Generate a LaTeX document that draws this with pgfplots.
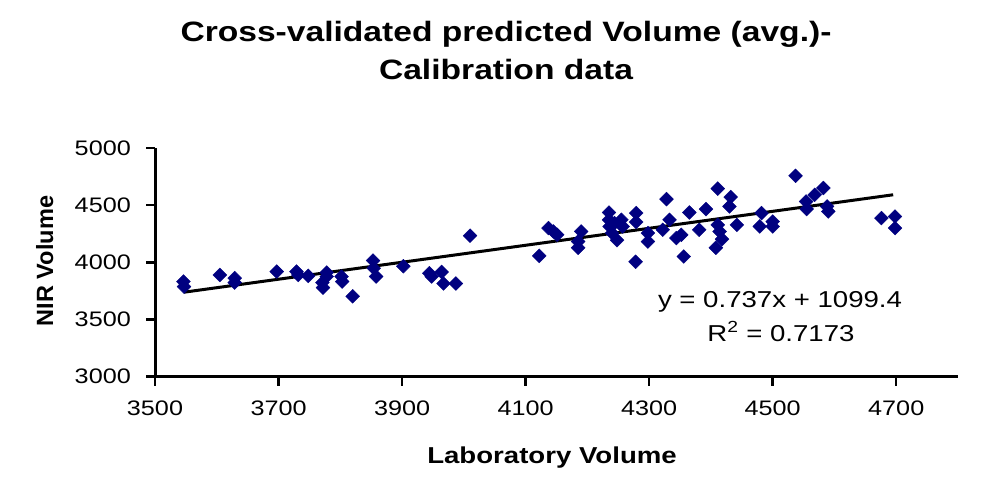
\documentclass[border=0pt]{standalone}
\usepackage{fontspec}
\setmainfont{Liberation Sans}[FakeStretch=1.2]
\newfontfamily\ylabelfont{Liberation Sans}
\usepackage{pgfplots}
\pgfplotsset{compat=1.18}
\definecolor{navyblue}{RGB}{0,0,128}
\pgfplotstableread{
x y
3546 3832
3547 3788
3605 3890
3629 3862
3629 3823
3697 3919
3729 3919
3732 3890
3748 3882
3771 3823
3772 3779
3778 3911
3778 3876
3802 3876
3803 3832
3820 3703
3853 4016
3854 3949
3858 3876
3902 3966
3944 3905
3948 3876
3964 3916
3967 3815
3987 3815
4010 4233
4122 4057
4137 4300
4145 4270
4151 4241
4190 4270
4185 4182
4185 4128
4235 4436
4235 4372
4236 4314
4244 4343
4255 4372
4248 4194
4240 4256
4257 4314
4279 4431
4279 4353
4278 4005
4298 4256
4298 4182
4328 4553
4322 4285
4333 4372
4344 4212
4352 4241
4356 4051
4365 4436
4381 4285
4392 4466
4411 4645
4411 4328
4414 4270
4418 4203
4408 4128
4432 4571
4430 4489
4442 4328
4482 4431
4479 4314
4500 4357
4500 4314
4537 4757
4554 4532
4555 4466
4568 4591
4582 4650
4588 4489
4590 4445
4676 4387
4698 4401
4698 4300
}\caldata
\begin{document}
\begin{tikzpicture}[x=1bp,y=1bp]
\path[use as bounding box] (0,0) rectangle (1003,-491);
\begin{axis}[
  at={(155bp,-376.7bp)}, anchor=south west,
  scale only axis, width=803bp, height=228.7bp,
  xmin=3500, xmax=4800, ymin=3000, ymax=5000,
  axis x line=bottom, axis y line=left,
  axis line style={-, line width=3bp, black},
  xtick={3500,3700,...,4700}, ytick={3000,3500,...,5000},
  tick align=outside, major tick length=9bp,
  tick style={line width=2.5bp, black},
  ticklabel style={font=\fontsize{21bp}{25bp}\selectfont, inner sep=0pt},
  /pgf/number format/assume math mode=true,
  /pgf/number format/set thousands separator={},
  xticklabel style={anchor=base, yshift=-30bp},
  yticklabel style={anchor=east, xshift=-15bp},
  clip=false,
]
\addplot[only marks, mark=square*, mark size=4.9bp,
  mark options={rotate=45, fill=navyblue, draw=navyblue}] table[x=x,y=y] {\caldata};
\addplot[line width=3bp, black] coordinates {(3547,3739) (4695,4591)};
\end{axis}
\node[anchor=base, font=\fontsize{28bp}{33bp}\selectfont\bfseries] at (506,-42) {Cross-validated predicted Volume (avg.)-};
\node[anchor=base, font=\fontsize{28bp}{33bp}\selectfont\bfseries] at (506,-80) {Calibration data};
\node[anchor=base, font=\fontsize{23bp}{27bp}\selectfont\bfseries] at (552,-463) {Laboratory Volume};
\node[rotate=90, anchor=base, font=\ylabelfont\fontsize{23.5bp}{27bp}\selectfont\bfseries] at (53,-261) {NIR Volume};
\node[anchor=base, font=\fontsize{23bp}{27bp}\selectfont] at (780,-308) {y = 0.737x + 1099.4};
\node[anchor=base, font=\fontsize{23bp}{27bp}\selectfont] at (781,-341.7) {R\textsuperscript{2} = 0.7173};
\end{tikzpicture}
\end{document}
